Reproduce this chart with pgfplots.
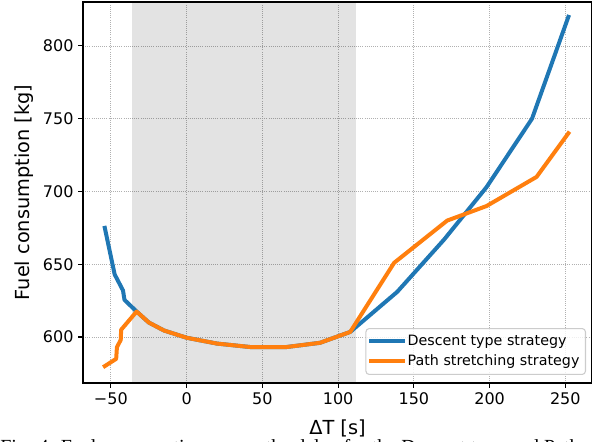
\documentclass[border=0pt]{standalone}
\usepackage{fontspec}
\setmainfont{DejaVu Sans}
\newfontfamily\capfont{Liberation Serif}
\usepackage{pgfplots}
\pgfplotsset{compat=1.18}
\definecolor{mplblue}{HTML}{1F77B4}
\definecolor{mplorange}{HTML}{FF7F0E}
\definecolor{gridgray}{HTML}{B0B0B0}

\begin{document}
\begin{tikzpicture}
\begin{axis}[
  name=ax,
  scale only axis,
  width=381.75pt, height=285.75pt,
  xmin=-68.4, xmax=267.6, ymin=568.4, ymax=830.2,
  axis line style={line width=0.8pt},
  xtick={-50,0,...,250},
  xticklabels={−50,0,50,100,150,200,250},
  ytick={600,650,...,800},
  /pgf/number format/assume math mode=true,
  tick pos=left,
  tick align=outside,
  major tick length=3.6pt,
  tick style={line width=0.8pt, black},
  ticklabel style={font=\fontsize{12}{14}\selectfont},
  grid=major,
  major grid style={gridgray, line width=0.6pt, dash pattern=on 0.6pt off 1pt},
  xlabel={ΔT [s]},
  ylabel={Fuel consumption [kg]},
  every axis x label/.style={at={(axis description cs:0.5,-0.1339)}, anchor=base,
    font=\fontsize{14.5}{17}\selectfont},
  every axis y label/.style={at={(axis description cs:-0.1153,0.5)}, rotate=90, anchor=center,
    font=\fontsize{14.5}{17}\selectfont},
  legend style={at={(1,0)}, anchor=south east, xshift=-4.5pt, yshift=6pt,
    draw=black!20, line width=0.8pt, rounded corners=2.5pt,
    fill=white, fill opacity=0.8, text opacity=1,
    font=\fontsize{10.7}{12.5}\selectfont,
    inner xsep=2.5pt, inner ysep=3pt, row sep=1.5pt},
  legend cell align=left,
  legend image code/.code={\draw[#1, line width=3pt] (0pt,0pt) -- (23.8pt,0pt);},
]
% shaded window
\addplot[draw=none, fill=black, fill opacity=0.11, forget plot]
  coordinates {(-36.3,560) (111.6,560) (111.6,840) (-36.3,840)};

\addplot[mplblue, line width=3pt, line join=round, line cap=rect] coordinates {
  (-54,675) (-47.5,643) (-42,632) (-41,625.5) (-33,617.5)
  (-25,610) (-15,604.5) (0,599.5) (20,595.5) (43,593) (65,593) (88,596) (108,603.5)
  (139,631) (170,667) (198,703) (228,750) (252,820)
};
\addlegendentry{Descent type strategy}

\addplot[mplorange, line width=3pt, line join=round, line cap=rect] coordinates {
  (-54,580) (-46.5,585) (-46,593) (-43.5,598) (-43.2,605) (-33,617.5)
  (-25,610) (-15,604.5) (0,599.5) (20,595.5) (43,593) (65,593) (88,596) (108,603.5)
  (137,651) (172,680) (198,690) (231,710) (252,740)
};
\addlegendentry{Path stretching strategy}
\end{axis}

\node[anchor=base west, inner sep=0pt, font=\capfont\fontsize{15}{18}\selectfont]
  at ([xshift=-62.25pt, yshift=-52.6pt]ax.south west)
  {Fig. 4: Fuel consumption versus the delay for the Descent type and Path stretching strategies.};

\pgfresetboundingbox
\useasboundingbox ([xshift=-62.25pt, yshift=-44.25pt]ax.south west) rectangle ([yshift=1.5pt]ax.north east);
\end{tikzpicture}
\end{document}
